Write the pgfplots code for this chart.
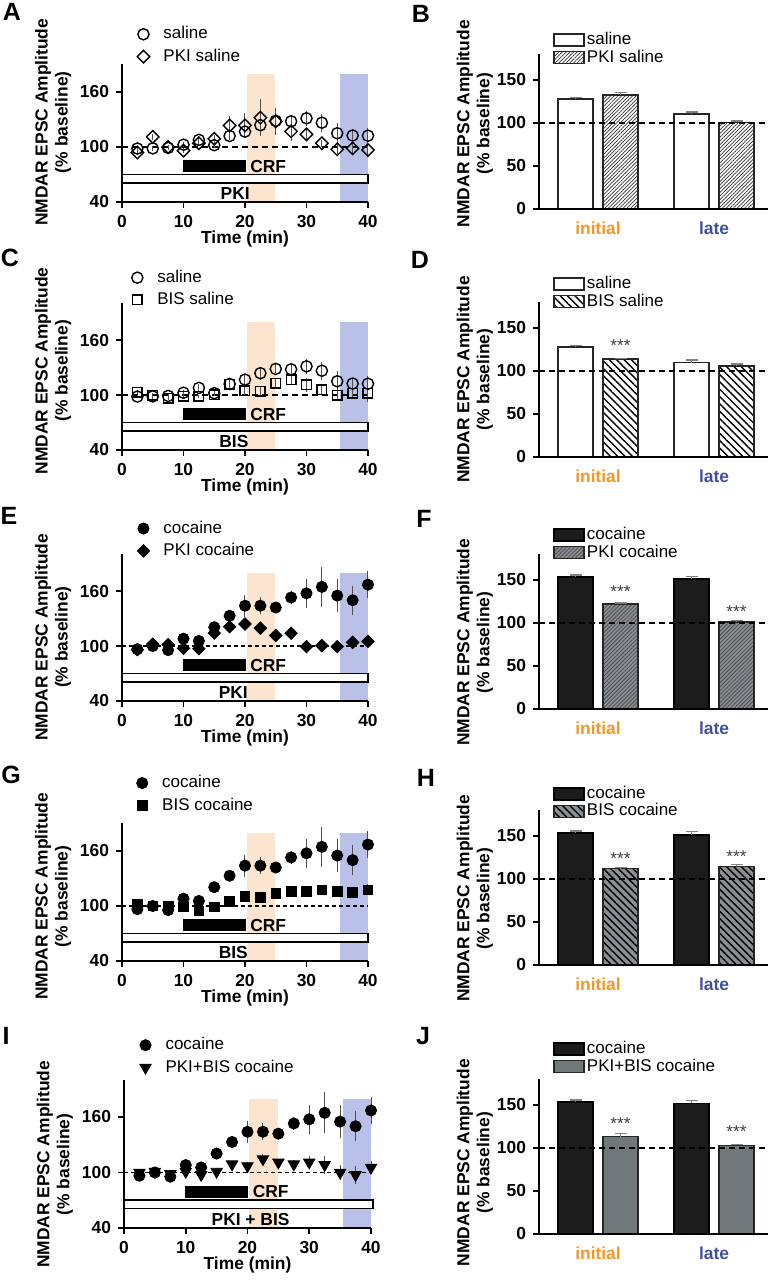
\documentclass[border=0pt]{standalone}
\usepackage{fontspec}
\setmainfont{Liberation Sans}
\usepackage{pgfplots}
\usepackage{pgfplotstable}
\pgfplotsset{compat=1.18}
\usetikzlibrary{patterns.meta}

\definecolor{bandO}{RGB}{252,228,206}
\definecolor{bandB}{RGB}{186,193,232}
\definecolor{initC}{RGB}{245,150,40}
\definecolor{lateC}{RGB}{65,80,160}
\definecolor{ebar}{RGB}{80,80,80}
\definecolor{ebarB}{RGB}{130,130,130}
\definecolor{barK}{RGB}{28,28,28}
\definecolor{grayF}{RGB}{138,143,148}
\definecolor{grayJ}{RGB}{112,120,121}

\newcommand\lab{\fontsize{8.7}{10}\selectfont\bfseries}
\newcommand\leg{\fontsize{8.5}{9.5}\selectfont}
\newcommand\pl{\fontsize{12.5}{13}\selectfont\bfseries}
\newcommand\st{\fontsize{8.6}{9}\selectfont}

% time course: t = min, m = % baseline, e = sem
\pgfplotstableread{
t m e
2.5 98.3 2
5 98.5 3
7.5 99 2
10 102.5 3
12.5 107.8 4
15 102 3
17.5 112 4
20 116.8 5
22.5 123.8 7
25 128.5 5
27.5 128 6
30 131.3 8
32.5 126.5 10
35 115 11
37.5 112.5 6
40 112.3 8
}\saline
\pgfplotstableread{
t m e
2.5 94 3
5 111 3
7.5 100 2
10 96 3
12.5 104 3
15 109 4
17.5 123.5 10
20 123.5 14
22.5 132 20
25 128 15
27.5 117 10
30 113.7 7
32.5 104 4
35 97.5 6
37.5 98.5 6
40 96.7 8
}\pkisal
\pgfplotstableread{
t m e
2.5 103 2
5 100 2
7.5 96.4 2
10 98.5 2
12.5 98.5 2
15 100.4 2
17.5 112 3
20 104.7 5
22.5 104 6
25 113 5
27.5 116.4 6
30 111 8
32.5 105.5 4
35 100 6
37.5 102 6
40 102 10
}\bissal
\pgfplotstableread{
t m e
2.5 96.5 2
5 100 2
7.5 95.5 3
10 108 3
12.5 105.5 3
15 120.5 3
17.5 133 3
20 144 12
22.5 144 9
25 142 4
27.5 153 7
30 157.5 16
32.5 164.5 22
35 155 18
37.5 150 16
40 167 15
}\cocaine
\pgfplotstableread{
t m e
2.5 96 2
5 102 2
7.5 101.5 2
10 97.5 2
12.5 97 2
15 114 3
17.5 121 3
20 124 4
22.5 119.5 3
25 111.5 3
27.5 114 3
30 99.3 2
32.5 100.4 2
35 99.3 3
37.5 104 2
40 105 2
}\pkicoc
\pgfplotstableread{
t m e
2.5 102.5 2
5 100 2
7.5 100 2
10 99 2
12.5 94.6 2
15 99 2
17.5 105 3
20 110.4 6
22.5 109.7 4
25 114 5
27.5 115.8 4
30 115.8 4
32.5 117.6 3
35 115.8 4
37.5 115 4
40 117.6 6
}\biscoc
\pgfplotstableread{
t m e
2.5 100 2
5 101 2
7.5 98.5 2
10 101 3
12.5 97.5 3
15 101 2
17.5 109 3
20 107 4
22.5 114.5 5
25 111 4
27.5 109 4
30 111 7
32.5 108.3 10
35 100 8
37.5 97.5 10
40 105.4 7
}\pkibis

\pgfplotsset{
  base/.style={
    scale only axis, anchor=south west, clip=false, axis on top,
    axis x line*=bottom, axis y line*=left,
    axis line style={line width=0.8pt},
    every tick/.style={black, line width=0.8pt},
    tick align=outside, major tick length=3pt,
    tick label style={font=\lab},
    /pgf/number format/assume math mode=true,
    label style={font=\lab},
    ylabel={NMDAR EPSC Amplitude\\(\% baseline)},
    ylabel style={align=center, anchor=center},
    legend style={draw=none, fill=none, inner sep=0pt, font=\leg,
      anchor=north west, nodes={inner sep=1pt}},
    legend cell align=left,
  },
  tc/.style={base, width=123pt, xmin=0, xmax=40, ymin=40,
    xtick={0,10,20,30,40}, ytick={40,100,160},
    xlabel={Time (min)}, xlabel style={yshift=5pt},
    legend style={row sep=1.5pt},
    legend image code/.code={\path[draw=none, fill=none] (0pt,-1pt) rectangle (14pt,1pt);
      \draw[mark repeat=2,mark phase=2,##1]
      plot coordinates {(0pt,0pt) (5pt,0pt) (14pt,0pt)};},
  },
  br/.style={base, width=114.5pt, height=77.5pt,
    xmin=0, xmax=229, ymin=0, ymax=180,
    ytick={0,50,100,150}, xtick={59,175},
    xticklabels={\textcolor{initC}{initial},\textcolor{lateC}{late}},
    every major x tick/.style={draw=none},
    legend style={row sep=-1pt},
  },
  opn/.style={only marks, black, mark size=2.8pt,
    mark options={solid, line width=0.7pt},
    /pgfplots/error bars/y dir=both, /pgfplots/error bars/y explicit,
    /pgfplots/error bars/error mark=none,
    /pgfplots/error bars/error bar style={ebar, line width=0.5pt}},
  fil/.style={opn, mark options={solid, line width=0.4pt, fill=black}},
  mybar/.style={ybar, bar width=35, bar shift=0pt, draw=black!85, line width=0.8pt,
    legend image code/.code={\draw[##1] (0pt,-3pt) rectangle (15pt,3pt);},
    /pgfplots/error bars/y dir=plus, /pgfplots/error bars/y explicit,
    /pgfplots/error bars/error mark options={rotate=90, ebarB, line width=0.7pt, mark size=3pt},
    /pgfplots/error bars/error bar style={ebarB, line width=0.7pt}},
}

% shared protocol drawing for the time-course panels
\newcommand\tcbg[4]{%
  \addplot[fill=bandO, draw=none, forget plot] coordinates {(20.3,40) (24.9,40) (24.9,180) (20.3,180)} -- cycle;
  \addplot[fill=bandB, draw=none, forget plot] coordinates {(35.5,40) (40,40) (40,180) (35.5,180)} -- cycle;
  \addplot[black, #1, forget plot] coordinates {(0,100) (40,100)};
  \addplot[fill=black, draw=black, forget plot] coordinates {(10,73) (20,73) (20,85) (10,85)} -- cycle;
  \addplot[fill=white, draw=black, line width=0.8pt, forget plot] coordinates {(0,61) (#4,61) (#4,70) (0,70)} -- cycle;
  \node[font=\lab, anchor=west, inner sep=0pt] at (axis cs:20.8,79) {CRF};
  \node[font=\lab, inner sep=0pt] at (axis cs:#3,49) {#2};
}
\newcommand\dashed{\addplot[black, line width=0.9pt, dash pattern=on 3pt off 2pt, forget plot] coordinates {(0,100) (229,100)};}
\newcommand\stars[2]{\node[font=\st, text=black!75, inner sep=0pt] at (axis cs:#1,#2) {***};}

\begin{document}
\begin{tikzpicture}
\path[use as bounding box] (0,0) rectangle (388pt,640pt);

% ---- A
\begin{axis}[tc, at={(61pt,539pt)}, height=68.75pt, ymax=190,
  ylabel style={at={(axis description cs:-0.28,0.58)}},
  legend style={at={(axis description cs:0.045,1.293)}}]
\tcbg{line width=1pt, dash pattern=on 3pt off 2pt}{PKI}{18.4}{40}
\addplot[opn, mark=o] table[x=t, y=m, y error=e] \saline;
\addlegendentry{saline}
\addplot[opn, mark=square, mark size=2.2pt, mark options={solid, line width=0.7pt, rotate=45}] table[x=t, y=m, y error=e] \pkisal;
\addlegendentry{PKI saline}
\end{axis}

% ---- B
\begin{axis}[br, at={(269.5pt,535.5pt)},
  ylabel style={at={(axis description cs:-0.28,0.55)}},
  legend style={at={(axis description cs:0.061,1.154)}}]
\addplot[mybar, fill=white] coordinates {(36.5,128) +- (0,1.5) (152.5,110.2) +- (0,2.3)};
\addlegendentry{saline}
\addplot[mybar, fill=white, postaction={pattern={Lines[angle=45,distance=1.3pt,line width=0.35pt]}, pattern color=black!80}]
  coordinates {(81.5,132.6) +- (0,3) (197.5,100.5) +- (0,1.5)};
\addlegendentry{PKI saline}
\dashed
\end{axis}

% ---- C
\begin{axis}[tc, at={(61pt,415pt)}, height=73.3pt, ymax=200,
  ylabel style={at={(axis description cs:-0.28,0.54)}},
  legend style={at={(axis description cs:0.02,1.244)}}]
\tcbg{line width=1pt, dash pattern=on 3pt off 2pt}{BIS}{18.2}{40}
\addplot[opn, mark=o] table[x=t, y=m, y error=e] \saline;
\addlegendentry{saline}
\addplot[opn, mark=square, mark size=2.4pt] table[x=t, y=m, y error=e] \bissal;
\addlegendentry{BIS saline}
\end{axis}

% ---- D
\begin{axis}[br, at={(269.5pt,411.5pt)},
  ylabel style={at={(axis description cs:-0.28,0.50)}},
  legend style={at={(axis description cs:0.061,1.18)}}]
\addplot[mybar, fill=white] coordinates {(36.5,127.9) +- (0,1.5) (152.5,109.6) +- (0,3)};
\addlegendentry{saline}
\addplot[mybar, fill=white, postaction={pattern={Lines[angle=-45,distance=2.6pt,line width=0.7pt]}, pattern color=black}]
  coordinates {(81.5,113.5) +- (0,1.2) (197.5,105.7) +- (0,2.3)};
\addlegendentry{BIS saline}
\dashed
\stars{81.5}{129}
\end{axis}

% ---- E
\begin{axis}[tc, at={(61pt,289.5pt)}, height=73.3pt, ymax=200,
  ylabel style={at={(axis description cs:-0.28,0.435)}},
  legend style={at={(axis description cs:0.045,1.245)}}]
\tcbg{line width=0.6pt, dash pattern=on 2pt off 1.5pt}{PKI}{18.1}{40}
\addplot[fil, mark=*] table[x=t, y=m, y error=e] \cocaine;
\addlegendentry{cocaine}
\addplot[fil, mark=square*, mark size=2.2pt, mark options={solid, fill=black, rotate=45}] table[x=t, y=m, y error=e] \pkicoc;
\addlegendentry{PKI cocaine}
\end{axis}

% ---- F
\begin{axis}[br, at={(269.5pt,285.5pt)},
  ylabel style={at={(axis description cs:-0.28,0.43)}},
  legend style={at={(axis description cs:0.061,1.187)}}]
\addplot[mybar, fill=barK, draw=black] coordinates {(36.5,153) +- (0,2.7) (152.5,151.2) +- (0,3)};
\addlegendentry{cocaine}
\addplot[mybar, fill=grayF, postaction={pattern={Lines[angle=45,distance=1.4pt,line width=0.4pt]}, pattern color=black!70}]
  coordinates {(81.5,122.1) +- (0,1.2) (197.5,101.3) +- (0,1.2)};
\addlegendentry{PKI cocaine}
\dashed
\stars{81.5}{136.5}
\stars{197.5}{113}
\end{axis}

% ---- G
\begin{axis}[tc, at={(61pt,159.5pt)}, height=68.75pt, ymax=190,
  ylabel style={at={(axis description cs:-0.28,0.47)}},
  legend style={at={(axis description cs:0.04,1.367)}}]
\tcbg{line width=0.6pt, dash pattern=on 2pt off 1.5pt}{BIS}{18.1}{40}
\addplot[fil, mark=*] table[x=t, y=m, y error=e] \cocaine;
\addlegendentry{cocaine}
\addplot[fil, mark=square*, mark size=2.4pt] table[x=t, y=m, y error=e] \biscoc;
\addlegendentry{BIS cocaine}
\end{axis}

% ---- H
\begin{axis}[br, at={(269.5pt,157.5pt)},
  ylabel style={at={(axis description cs:-0.28,0.43)}},
  legend style={at={(axis description cs:0.061,1.168)}}]
\addplot[mybar, fill=barK, draw=black] coordinates {(36.5,153.3) +- (0,2.3) (152.5,151.2) +- (0,3.9)};
\addlegendentry{cocaine}
\addplot[mybar, fill=grayF, postaction={pattern={Lines[angle=-45,distance=2.6pt,line width=0.7pt]}, pattern color=black}]
  coordinates {(81.5,111.9) +- (0,1.2) (197.5,114.6) +- (0,2)};
\addlegendentry{BIS cocaine}
\dashed
\stars{81.5}{123}
\stars{197.5}{126}
\end{axis}

% ---- I
\begin{axis}[tc, at={(62pt,26pt)}, width=123.5pt, height=74pt, ymax=200,
  ylabel style={at={(axis description cs:-0.28,0.43)}},
  legend style={at={(axis description cs:0.045,1.303)}}]
\tcbg{line width=0.6pt, dash pattern=on 2pt off 1.5pt}{PKI + BIS}{20.5}{40.3}
\addplot[fil, mark=*] table[x=t, y=m, y error=e] \cocaine;
\addlegendentry{cocaine}
\addplot[fil, mark=triangle*, mark size=3.3pt, mark options={solid, fill=black, rotate=180}] table[x=t, y=m, y error=e] \pkibis;
\addlegendentry{PKI+BIS cocaine}
\end{axis}

% ---- J
\begin{axis}[br, at={(269.5pt,23pt)},
  ylabel style={at={(axis description cs:-0.28,0.46)}},
  legend style={at={(axis description cs:0.061,1.258)}}]
\addplot[mybar, fill=barK, draw=black] coordinates {(36.5,153.1) +- (0,2.7) (152.5,151.6) +- (0,3.1)};
\addlegendentry{cocaine}
\addplot[mybar, fill=grayJ] coordinates {(81.5,113.1) +- (0,3.5) (197.5,103) +- (0,1.2)};
\addlegendentry{PKI+BIS cocaine}
\dashed
\stars{81.5}{128.6}
\stars{197.5}{118.9}
\end{axis}

% panel letters
\node[font=\pl] at (6pt,634pt) {A};
\node[font=\pl] at (210.5pt,633pt) {B};
\node[font=\pl] at (5pt,511pt) {C};
\node[font=\pl] at (210pt,510pt) {D};
\node[font=\pl] at (4.5pt,382pt) {E};
\node[font=\pl] at (212pt,380.5pt) {F};
\node[font=\pl] at (5.5pt,252.5pt) {G};
\node[font=\pl] at (213pt,251pt) {H};
\node[font=\pl] at (3pt,122pt) {I};
\node[font=\pl] at (211.5pt,122pt) {J};
\end{tikzpicture}
\end{document}
